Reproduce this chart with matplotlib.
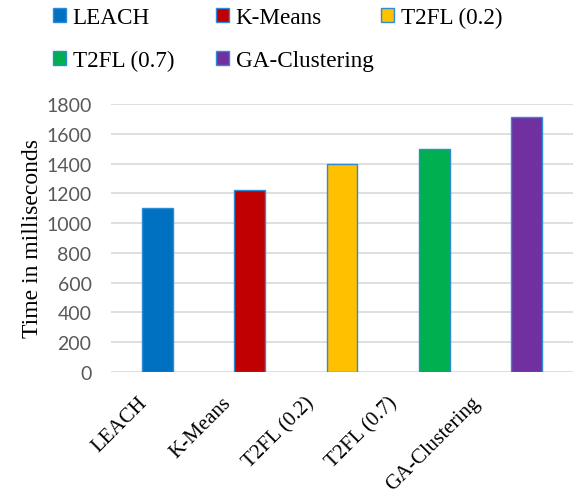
import matplotlib.pyplot as plt
from matplotlib.patches import Patch
from matplotlib.transforms import ScaledTranslation

methods = ['LEACH', 'K-Means', 'T2FL (0.2)', 'T2FL (0.7)', 'GA-Clustering']
times = [1100, 1220, 1400, 1500, 1710]
colors = ['#0070C0', '#C00000', '#FFC000', '#00B050', '#7030A0']
yticks = [0, 200, 400, 600, 800, 1000, 1200, 1400, 1600, 1800]

serif = 'Liberation Serif'

fig = plt.figure(figsize=(5.79, 5.02), dpi=100)
ax = fig.add_axes([111 / 579, 1 - 373 / 502, 462 / 579, 268 / 502])

x = range(len(methods))
ax.bar(x, times, width=0.333, color=colors, edgecolor='#2E8BD8', linewidth=1.0, zorder=3)

ax.set_xlim(-0.5, 4.5)
ax.set_ylim(0, 1800)
ax.set_yticks(yticks)
ax.set_yticklabels([str(v) for v in yticks], fontfamily='Lato', fontsize=14, color='#595959')
ax.grid(axis='y', color='#D9D9D9', linewidth=1.2, zorder=0)
ax.tick_params(axis='both', length=0)
ax.tick_params(axis='y', pad=14)
for s in ax.spines.values():
    s.set_visible(False)

ax.set_xticks(list(x))
ax.set_xticklabels(methods, rotation=45, ha='right', rotation_mode='anchor',
                   fontfamily=serif, fontsize=15)
ax.tick_params(axis='x', pad=15)
# labels drift left a little more for each category
for i, lbl in enumerate(ax.get_xticklabels()):
    dx = -(19 + 9.3 * i) / 100
    lbl.set_transform(lbl.get_transform() + ScaledTranslation(dx, 0, fig.dpi_scale_trans))

ax.set_ylabel('Time in milliseconds', fontfamily=serif, fontsize=17, labelpad=2)

# legend grid: fixed-width columns, so split into two legends
def patch(i):
    return Patch(facecolor=colors[i], edgecolor='#2E8BD8', linewidth=1.0)

leg_kw = dict(loc='upper left', frameon=False, prop={'family': serif, 'size': 16.7},
              handlelength=0.55, handleheight=0.55, handletextpad=0.3,
              labelspacing=0.95)
order = [0, 3, 1, 4]
leg1 = fig.legend([patch(i) for i in order], [methods[i] for i in order],
                  bbox_to_anchor=(32 / 579, 1.025), ncol=2, columnspacing=1.8, **leg_kw)
leg2 = fig.legend([patch(2)], [methods[2]],
                  bbox_to_anchor=(360 / 579, 1.025), ncol=1, **leg_kw)

fig.savefig('out.png', dpi=100)
